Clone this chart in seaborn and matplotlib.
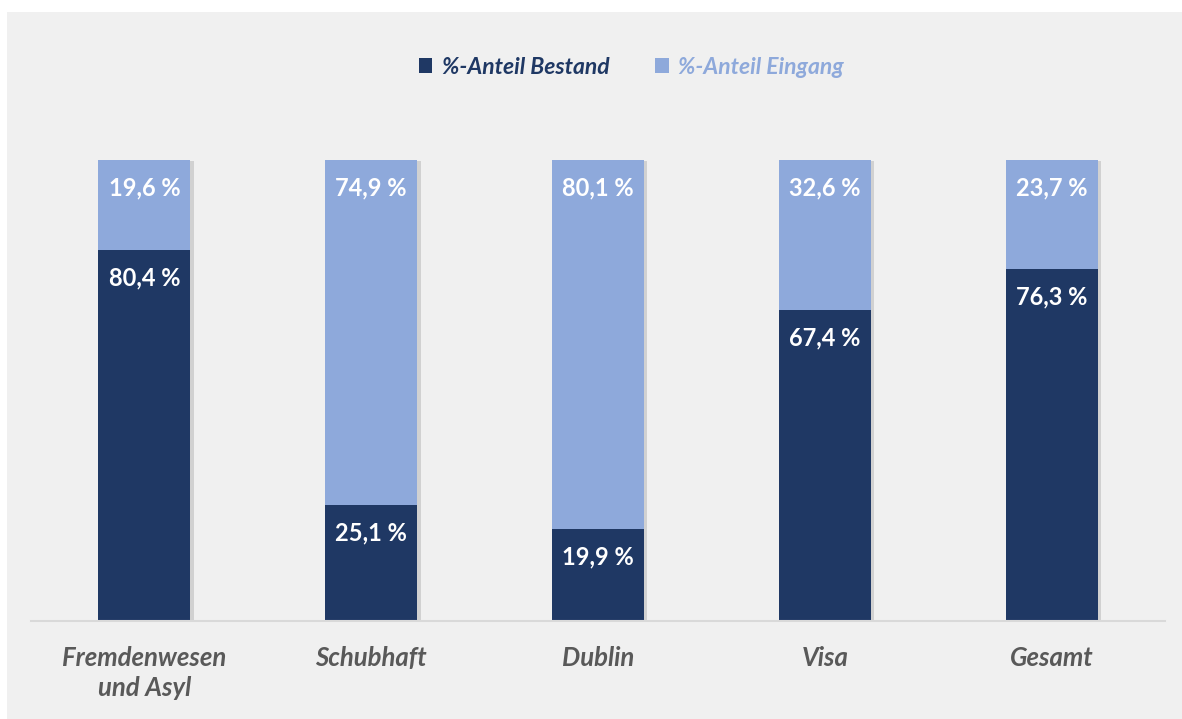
import pandas as pd
import seaborn as sns
import matplotlib.pyplot as plt
import matplotlib.patheffects as pe
from matplotlib.patches import Rectangle

# data
categories = ['Fremdenwesen\nund Asyl', 'Schubhaft', 'Dublin', 'Visa', 'Gesamt']
bestand = [80.4, 25.1, 19.9, 67.4, 76.3]
eingang = [19.6, 74.9, 80.1, 32.6, 23.7]

dark = '#1F3864'
light = '#8EA9DB'
panel = '#F0F0F0'

df = pd.DataFrame({'Kategorie': categories, 'Bestand': bestand, 'Eingang': eingang})
df['Total'] = df['Bestand'] + df['Eingang']

sns.set_theme(style='white')
plt.rcParams['font.family'] = ['Lato', 'DejaVu Sans']

fig = plt.figure(figsize=(11.82, 7.19), dpi=100)
fig.patch.set_facecolor('white')
fig.add_artist(Rectangle((7 / 1182, 0), 1 - 7 / 1182, 1 - 12 / 719,
                         transform=fig.transFigure, facecolor=panel,
                         edgecolor='none', zorder=0))

ax = fig.add_axes([31 / 1182, 1 - 621 / 719, 1134 / 1182, (621 - 160) / 719])
ax.set_facecolor('none')

# stacked bars: full height light bar behind, dark Bestand on top
sns.barplot(data=df, x='Kategorie', y='Total', color=light, width=0.405,
            saturation=1, linewidth=0, ax=ax, label='%-Anteil Eingang')
sns.barplot(data=df, x='Kategorie', y='Bestand', color=dark, width=0.405,
            saturation=1, linewidth=0, ax=ax, label='%-Anteil Bestand')

for i in range(len(categories)):
    ax.annotate(f"{bestand[i]:.1f} %".replace('.', ','), (i, bestand[i]),
                xytext=(0, -20), textcoords='offset points', ha='center', va='center',
                color='white', fontsize=17, fontweight='bold')
    ax.annotate(f"{eingang[i]:.1f} %".replace('.', ','), (i, df['Total'][i]),
                xytext=(0, -20), textcoords='offset points', ha='center', va='center',
                color='white', fontsize=17, fontweight='bold')

ax.set_ylim(0, 100)
ax.set_xlim(-0.5, len(categories) - 0.5)
ax.set_xlabel('')
ax.set_ylabel('')
ax.set_yticks([])
for s in ['top', 'right', 'left']:
    ax.spines[s].set_visible(False)
ax.spines['bottom'].set_color('#D9D9D9')
ax.spines['bottom'].set_linewidth(1.5)
ax.tick_params(axis='x', length=0, pad=18)
for t in ax.get_xticklabels():
    t.set_fontsize(18.5)
    t.set_fontweight('bold')
    t.set_fontstyle('italic')
    t.set_color('#595959')
    t.set_linespacing(1.3)

# legend: Bestand first
handles, labels = ax.get_legend_handles_labels()
order = [labels.index('%-Anteil Bestand'), labels.index('%-Anteil Eingang')]
leg = fig.legend([handles[k] for k in order], [labels[k] for k in order],
                 loc='center', bbox_to_anchor=(0.534, 1 - 67 / 719), ncol=2,
                 frameon=False, handlelength=0.6, handleheight=0.6,
                 handletextpad=0.4, columnspacing=2.0,
                 prop={'size': 16.5, 'weight': 'bold', 'style': 'italic'})
for txt, c in zip(leg.get_texts(), [dark, light]):
    txt.set_color(c)
if ax.get_legend():
    ax.get_legend().remove()

# soft shadow on the right of the full bars
shadow = [pe.SimplePatchShadow(offset=(2.5, -1), shadow_rgbFace='#8c8c8c', alpha=0.3),
          pe.Normal()]
for p in ax.patches[:len(categories)]:
    p.set_path_effects(shadow)

fig.savefig('out.png', dpi=100, facecolor=fig.get_facecolor())
